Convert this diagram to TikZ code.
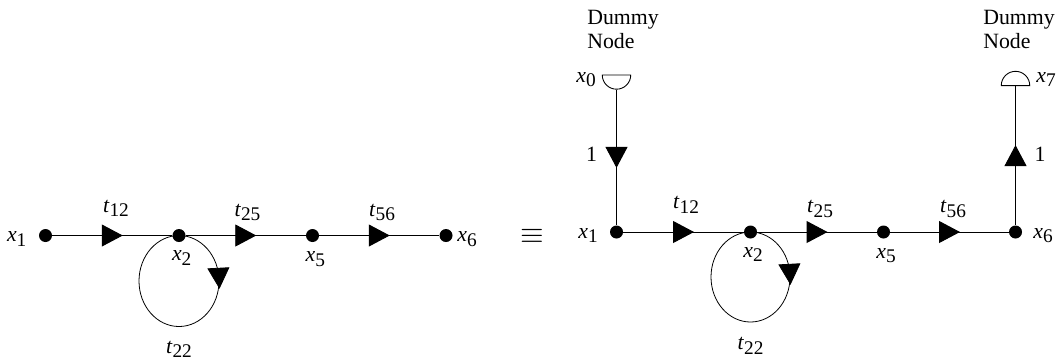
\documentclass[tikz,border=0pt]{standalone}
\usepackage{fontspec}
\setmainfont{Liberation Serif}
\usetikzlibrary{decorations.markings,arrows.meta,shapes.geometric}
\newcommand{\var}[2]{\textit{#1}\raisebox{-2.8pt}{\fontsize{11}{12}\selectfont #2}}
\tikzset{
  dot/.style={circle, fill=black, inner sep=0pt, minimum size=0.26cm},
  dummy/.style={semicircle, draw=black, line width=0.5pt, inner sep=0pt, minimum width=0.57cm, minimum height=0.285cm},
  flow/.style={draw=black, line width=0.55pt, postaction={decorate},
    decoration={markings, mark=at position #1 with {\arrow[xshift=0.21cm]{Triangle[length=0.42cm,width=0.44cm]}}}},
  flow/.default=0.5,
  lbl/.style={anchor=base, inner sep=0pt, font=\fontsize{12.4}{13.6}\selectfont},
}
\begin{document}
\begin{tikzpicture}[x=0.02cm, y=-0.02cm]
\useasboundingbox (0,0) rectangle (1057,360);
% left graph
\node[dot] (l1) at (45.5,235.5) {};
\node[dot] (l2) at (179,235.5) {};
\node[dot] (l5) at (312.5,235.5) {};
\node[dot] (l6) at (446,235.5) {};
\draw[flow] (l1) -- (l2);
\draw[flow] (l2) -- (l5);
\draw[flow] (l5) -- (l6);
\draw[flow=0.24, line width=0.45pt] (l2.center) arc[start angle=-90, end angle=270, x radius=40, y radius=45.5];
\node[lbl] (l1txt) at (16.7,241.5) {\var{x}{1}};
\node[lbl] (l2txt) at (181.7,260.7) {\var{x}{2}};
\node[lbl] (l5txt) at (315.3,261.5) {\var{x}{5}};
\node[lbl] (l6txt) at (467,241.5) {\var{x}{6}};
\node[lbl] (l12txt) at (116,212) {\var{t}{12}};
\node[lbl] (l25txt) at (247.5,216) {\var{t}{25}};
\node[lbl] (l56txt) at (382,216) {\var{t}{56}};
\node[lbl] (l22txt) at (179,353) {\var{t}{22}};
% equivalence
\node[inner sep=0pt, font=\fontsize{19}{20}\selectfont] (eq) at (532,236) {$\equiv$};
% right graph
\node[dot] (r1) at (616.5,232) {};
\node[dot] (r2) at (750.5,232) {};
\node[dot] (r5) at (883.5,232) {};
\node[dot] (r6) at (1015.5,232) {};
\node[dummy, shape border rotate=180, anchor=chord center] (r0) at (616.5,74.5) {};
\node[dummy, anchor=chord center] (r7) at (1015.5,86) {};
\draw[flow] (r0.apex) -- (r1);
\draw[flow] (r1) -- (r2);
\draw[flow] (r2) -- (r5);
\draw[flow] (r5) -- (r6);
\draw[flow] (r6) -- (r7.chord center);
\draw[flow=0.24, line width=0.45pt] (r2.center) arc[start angle=-90, end angle=270, x radius=39.5, y radius=45];
\node[lbl] (r0txt) at (586,82) {\var{x}{0}};
\node[lbl] (r7txt) at (1046,82) {\var{x}{7}};
\node[lbl] (r1txt) at (588,238) {\var{x}{1}};
\node[lbl] (r2txt) at (753,257) {\var{x}{2}};
\node[lbl] (r5txt) at (886,258) {\var{x}{5}};
\node[lbl] (r6txt) at (1043,238) {\var{x}{6}};
\node[lbl] (r12txt) at (686,208.5) {\var{t}{12}};
\node[lbl] (r25txt) at (820,212.5) {\var{t}{25}};
\node[lbl] (r56txt) at (953,212.5) {\var{t}{56}};
\node[lbl] (r22txt) at (750.5,349.5) {\var{t}{22}};
\node[lbl] (r01txt) at (591.5,161) {1};
\node[lbl] (r67txt) at (1040,161) {1};
\node[lbl, anchor=base west, align=left] (r0head) at (587,48) {Dummy\\Node};
\node[lbl, anchor=base west, align=left] (r7head) at (983,48) {Dummy\\Node};
\end{tikzpicture}
\end{document}
